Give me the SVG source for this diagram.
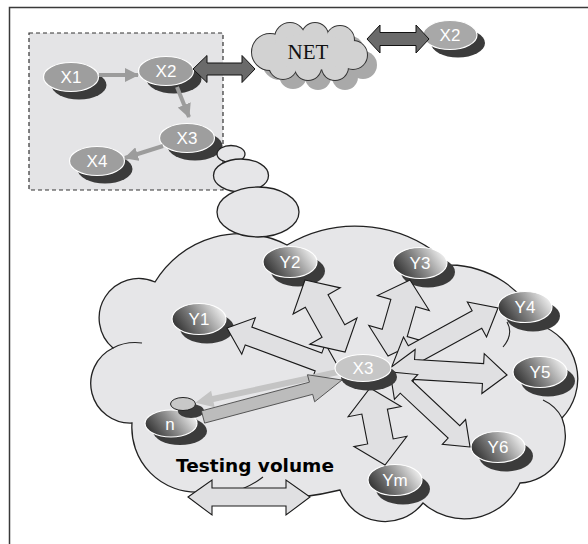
<svg xmlns="http://www.w3.org/2000/svg" xmlns:xlink="http://www.w3.org/1999/xlink" width="588" height="544" viewBox="0 0 588 544">
  <style>
    .frame { fill: none; stroke: #3a3a3a; stroke-width: 1.5; }
    .box { fill: #e4e4e6; stroke: #333; stroke-width: 1.2; stroke-dasharray: 4 3; }
    .shadow { fill: #3b3b3b; }
    .xnode { fill: #9e9e9e; stroke: #fff; stroke-width: 1.2; }
    .xlight { fill: #c6c6c6; stroke: #fff; stroke-width: 1.2; }
    .ynode { fill: url(#metal); stroke: #fff; stroke-width: 1.2; }
    .lbl { font-family: "Liberation Sans", Arial, sans-serif; font-size: 17px; fill: #fff; text-anchor: middle; }
    .netlbl { font-family: "Liberation Serif", "Times New Roman", serif; font-size: 21px; fill: #111; text-anchor: middle; }
    .title { font-family: "DejaVu Sans", Verdana, sans-serif; font-size: 18.5px; font-weight: bold; fill: #000; text-anchor: middle; }
    .cloud { fill: #e6e6e8; stroke: #222; stroke-width: 1.3; }
    .inner { fill: none; stroke: #222; stroke-width: 1.1; }
    .block { fill: #e0e0e2; stroke: #1a1a1a; stroke-width: 1.1; }
    .thin { stroke: #9c9c9c; stroke-width: 4; fill: none; marker-end: url(#tip); }
    .dark { fill: #6a6a6a; stroke: #111; stroke-width: 1; }
    .netout { fill: #d2d2d2; stroke: #333; stroke-width: 2; }
    .netfill { fill: #d2d2d2; stroke: none; }
    .netshadow { fill: #a9a9a9; stroke: none; }
  </style>
  <defs>
    <linearGradient id="metal" x1="0" y1="0.7" x2="1" y2="0.3">
      <stop offset="0" stop-color="#2e2e2e"/>
      <stop offset="0.5" stop-color="#8a8a8a"/>
      <stop offset="1" stop-color="#f4f4f4"/>
    </linearGradient>
    <marker id="tip" viewBox="0 0 14 14" refX="13" refY="7" markerWidth="14" markerHeight="14" markerUnits="userSpaceOnUse" orient="auto">
      <path d="M0,0 L14,7 L0,14 Z" fill="#9c9c9c"/>
    </marker>
    <!-- bumps of the small NET cloud -->
    <g id="netBumps">
      <circle cx="270" cy="52" r="18"/>
      <circle cx="290" cy="38" r="15"/>
      <circle cx="315" cy="36" r="13"/>
      <circle cx="340" cy="40" r="14"/>
      <circle cx="353" cy="55" r="14"/>
      <circle cx="335" cy="67" r="13"/>
      <circle cx="308" cy="67" r="13"/>
      <circle cx="283" cy="65" r="14"/>
      <ellipse cx="311" cy="52" rx="40" ry="18"/>
    </g>
  </defs>

  <rect x="0" y="0" width="588" height="544" fill="#fff"/>
  <rect class="frame" x="9.5" y="7.5" width="600" height="560"/>

  <!-- local segment -->
  <rect class="box" x="29" y="33" width="194" height="157"/>

  <!-- testing volume cloud -->
  <g id="volume">
    <path class="cloud" d="M155,282 A100,100 0 0 1 287,245 A134,134 0 0 1 450,265 A100,100 0 0 1 540,325 A57,57 0 0 1 562,418 A47.5,47.5 0 0 1 520,483 A61.5,61.5 0 0 1 423,503 A48,48 0 0 1 340,490 A310,310 0 0 1 200,492 A64.5,64.5 0 0 1 132,423 A39.5,39.5 0 0 1 113,348 A39.5,39.5 0 0 1 155,282 Z"/>
    <path class="inner" d="M142,343 Q126,341 113,348"/>
    <path class="inner" d="M263,477 Q254,484 242,489"/>
    <path class="inner" d="M507,322 Q514,334 503,347"/>
    <path class="inner" d="M543,400 Q556,406 562,418"/>
  </g>

  <!-- NET cloud -->
  <g id="net">
    <use xlink:href="#netBumps" class="netshadow" transform="translate(10,10)"/>
    <use xlink:href="#netBumps" class="netout"/>
    <use xlink:href="#netBumps" class="netfill"/>
    <text class="netlbl" x="308" y="59">NET</text>
  </g>

  <!-- nodes of the local segment -->
  <g id="x1">
    <ellipse class="shadow" cx="79" cy="85" rx="27.5" ry="14.5"/>
    <ellipse class="xnode" cx="71" cy="77" rx="27.5" ry="14.5"/>
    <text class="lbl" x="71" y="83">X1</text>
  </g>
  <g id="x2">
    <ellipse class="shadow" cx="174" cy="79" rx="27.5" ry="14.5"/>
    <ellipse class="xnode" cx="166" cy="71" rx="27.5" ry="14.5"/>
    <text class="lbl" x="166" y="77">X2</text>
  </g>
  <g id="x3">
    <ellipse class="shadow" cx="195" cy="146" rx="27.5" ry="14.5"/>
    <ellipse class="xnode" cx="187" cy="138" rx="27.5" ry="14.5"/>
    <text class="lbl" x="187" y="144">X3</text>
  </g>
  <g id="x4">
    <ellipse class="shadow" cx="105" cy="169" rx="27.5" ry="14.5"/>
    <ellipse class="xnode" cx="97" cy="161" rx="27.5" ry="14.5"/>
    <text class="lbl" x="97" y="167">X4</text>
  </g>
  <g id="x2-remote">
    <ellipse class="shadow" cx="458" cy="43" rx="27" ry="14.5"/>
    <ellipse class="xnode" cx="450" cy="35" rx="27" ry="14.5" style="fill:#a8a8a8"/>
    <text class="lbl" x="450" y="41">X2</text>
  </g>

  <!-- thought bubbles, drawn over the X3 shadow -->
  <g id="bubbles">
    <ellipse class="cloud" cx="231" cy="154" rx="14" ry="8.5"/>
    <ellipse class="cloud" cx="241" cy="175.5" rx="27.5" ry="16.5"/>
    <ellipse class="cloud" cx="258" cy="212" rx="41" ry="25"/>
  </g>

  <!-- Y nodes -->
  <g id="y1">
    <ellipse class="shadow" cx="207" cy="328" rx="27" ry="15.5"/>
    <ellipse class="ynode" cx="199" cy="319" rx="27" ry="15.5"/>
    <text class="lbl" x="199" y="325">Y1</text>
  </g>
  <g id="y2">
    <ellipse class="shadow" cx="298" cy="271" rx="27" ry="15.5"/>
    <ellipse class="ynode" cx="290" cy="262" rx="27" ry="15.5"/>
    <text class="lbl" x="290" y="268">Y2</text>
  </g>
  <g id="y3">
    <ellipse class="shadow" cx="428" cy="272" rx="27" ry="15.5"/>
    <ellipse class="ynode" cx="420" cy="263" rx="27" ry="15.5"/>
    <text class="lbl" x="420" y="269">Y3</text>
  </g>
  <g id="y4">
    <ellipse class="shadow" cx="533" cy="316" rx="27" ry="15.5"/>
    <ellipse class="ynode" cx="525" cy="307" rx="27" ry="15.5"/>
    <text class="lbl" x="525" y="313">Y4</text>
  </g>
  <g id="y5">
    <ellipse class="shadow" cx="548" cy="381" rx="27" ry="15.5"/>
    <ellipse class="ynode" cx="540" cy="372" rx="27" ry="15.5"/>
    <text class="lbl" x="540" y="378">Y5</text>
  </g>
  <g id="y6">
    <ellipse class="shadow" cx="506" cy="456" rx="27" ry="15.5"/>
    <ellipse class="ynode" cx="498" cy="447" rx="27" ry="15.5"/>
    <text class="lbl" x="498" y="453">Y6</text>
  </g>
  <g id="ym">
    <ellipse class="shadow" cx="403" cy="489" rx="27" ry="15.5"/>
    <ellipse class="ynode" cx="395" cy="480" rx="27" ry="15.5"/>
    <text class="lbl" x="395" y="486">Ym</text>
  </g>
  <g id="n">
    <ellipse class="shadow" cx="180" cy="431" rx="27" ry="14"/>
    <ellipse class="ynode" cx="171" cy="423.5" rx="26" ry="13.5"/>
    <text class="lbl" x="170" y="430">n</text>
    <ellipse class="shadow" cx="191" cy="411" rx="13" ry="7"/>
    <ellipse cx="183" cy="404" rx="12.5" ry="6.5" fill="#c8c8c8" stroke="#222" stroke-width="1"/>
  </g>

  <!-- connectors -->
  <g id="connectors">
    <line class="thin" x1="99" y1="75" x2="138" y2="75"/>
    <line class="thin" x1="177" y1="87" x2="189" y2="117"/>
    <line class="thin" x1="163" y1="146" x2="125" y2="158"/>
    <polygon class="dark" points="193,69 207,55.5 207,63 242,63 242,55.5 255,69 242,82.5 242,75 207,75 207,82.5"/>
    <polygon class="dark" points="367,39 380,25 380,32.5 416,32.5 416,25 429,39 416,53 416,45.5 380,45.5 380,53"/>

    <polygon class="block" transform="translate(227,328) rotate(20.4)" points="0,0 23,-19.5 23,-9.5 97.6,-9.5 97.6,-19.5 120.6,0 97.6,19.5 97.6,9.5 23,9.5 23,19.5"/>
    <polygon class="block" transform="translate(305,280) rotate(60.9)" points="0,0 24,-27 24,-13 58.4,-13 58.4,-27 82.4,0 58.4,27 58.4,13 24,13 24,27"/>
    <polygon class="block" transform="translate(410,280) rotate(106.1)" points="0,0 24,-27 24,-13 55.1,-13 55.1,-27 79.1,0 55.1,27 55.1,13 24,13 24,27"/>
    <polygon class="block" transform="translate(498,308) rotate(151.3)" points="0,0 24,-20 24,-10 96.8,-10 96.8,-20 120.8,0 96.8,20 96.8,10 24,10 24,20"/>
    <polygon class="block" transform="translate(507,375) rotate(183.4)" points="0,0 24,-20 24,-10 93.2,-10 93.2,-20 117.2,0 93.2,20 93.2,10 24,10 24,20"/>
    <polygon class="block" transform="translate(470,447) rotate(223.2)" points="0,0 22,-17 22,-8.5 87.7,-8.5 87.7,-17 109.7,0 87.7,17 87.7,8.5 22,8.5 22,17"/>
    <polygon class="block" transform="translate(385,465) rotate(259)" points="0,0 24,-27 24,-13 54.4,-13 54.4,-27 78.4,0 54.4,27 54.4,13 24,13 24,27"/>

    <polygon transform="translate(338,372) rotate(167.8)" points="0,-3 128,-3 128,-8.5 146,0 128,8.5 128,3 0,3" fill="#c4c4c4"/>
    <polygon transform="translate(203,417) rotate(-14.9)" points="0,-6.3 111.8,-6.3 111.8,-14 143.8,0 111.8,14 111.8,6.3 0,6.3" fill="#bcbcbc" stroke="#444" stroke-width="0.8"/>

    <polygon class="block" points="188,497 212,480 212,488 286,488 286,480 310,497 286,515 286,506 212,506 212,515"/>
  </g>

  <!-- X3 seen inside the testing volume -->
  <g id="x3-volume">
    <ellipse class="shadow" cx="369" cy="377" rx="28" ry="13.5"/>
    <ellipse class="xlight" cx="363" cy="368" rx="28" ry="13.5"/>
    <text class="lbl" x="363" y="374">X3</text>
  </g>

  <text class="title" x="255" y="472">Testing volume</text>
</svg>
